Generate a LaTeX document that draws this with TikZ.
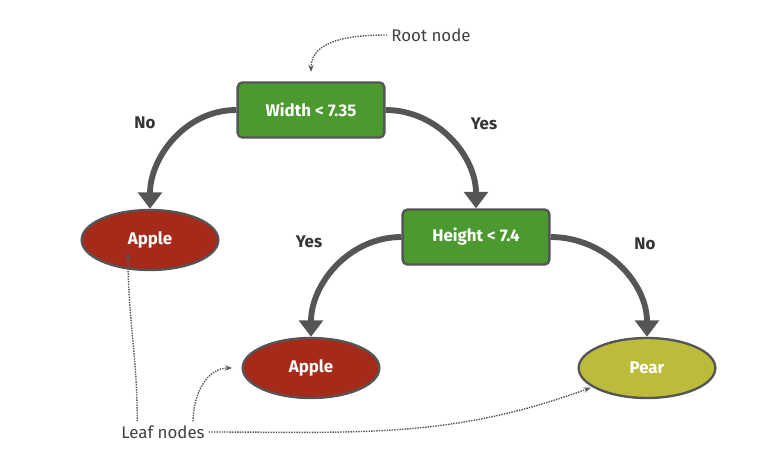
\documentclass[tikz,border=0pt]{standalone}
\usepackage{fontspec}
\setmainfont{Fira Sans}
\usetikzlibrary{shapes.geometric,arrows.meta}
\definecolor{splitgreen}{HTML}{4C9A2F}
\definecolor{leafred}{HTML}{A52A1A}
\definecolor{leafpear}{HTML}{BCBC3C}
\definecolor{edgegray}{HTML}{555555}
\tikzset{
  split/.style={draw=edgegray,line width=2pt,fill=splitgreen,rounded corners=4pt,
    minimum width=4.4cm,minimum height=1.65cm,text=white,font=\bfseries\Large},
  leaf/.style={ellipse,draw=edgegray,line width=2pt,minimum width=4.1cm,
    minimum height=1.8cm,text=white,font=\bfseries\Large},
  branch/.style={edgegray,line width=5pt,-{Triangle[length=14pt,width=20pt]}},
  note/.style={edgegray,densely dotted,line width=1.2pt,-{Stealth[length=6pt]}},
  lbl/.style={font=\bfseries\Large,text=black!80}
}
\begin{document}
\begin{tikzpicture}[x=0.03cm,y=-0.03cm]
    \useasboundingbox (0,0) rectangle (765,472);
    % tests and leaves
    \node[split] (width) at (311,110) {Width < 7.35};
    \node[split] (height) at (476,237) {Height < 7.4};
    \node[leaf,fill=leafred] (apple1) at (150,240) {Apple};
    \node[leaf,fill=leafred] (apple2) at (311,368) {Apple};
    \node[leaf,fill=leafpear] (pear) at (647,368) {Pear};
    % branches
    \draw[branch] (width.west) to[out=180,in=90] (apple1.north);
    \draw[branch] (width.east) to[out=0,in=90] (height.north);
    \draw[branch] (height.west) to[out=180,in=90] (apple2.north);
    \draw[branch] (height.east) to[out=0,in=90] (pear.north);
    \node[lbl] (no1) at (145,123) {No};
    \node[lbl] (yes1) at (484,124) {Yes};
    \node[lbl] (yes2) at (309,242) {Yes};
    \node[lbl] (no2) at (645,244) {No};
    % notes
    \node[font=\Large,text=black!75] (rootnote) at (431,35) {Root node};
    \node[font=\Large,text=black!75] (leafnote) at (163,432) {Leaf nodes};
    \draw[note] (rootnote.west) to[out=180,in=90] ([yshift=8]width.north);
    \draw[note] (leafnote.north west) ++(20,0) coordinate (l1) (l1) to[out=90,in=-90] ([yshift=8]apple1.south west -| 128,0);
    \draw[note] (leafnote.north) ++(30,0) coordinate (l2) (l2) to[out=90,in=180] ([xshift=-8]apple2.west);
    \draw[note] (leafnote.east) to[out=0,in=200] ([xshift=-6,yshift=2]pear.south west);
\end{tikzpicture}
\end{document}
